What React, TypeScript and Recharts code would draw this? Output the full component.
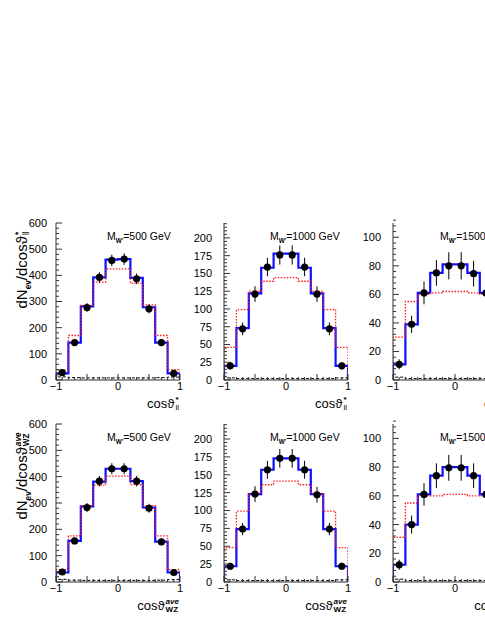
import React from 'react';
import { ComposedChart, Line, Scatter, ErrorBar, XAxis, YAxis } from 'recharts';

// binning shared by every panel
const binEdges = [-1, -0.8, -0.6, -0.4, -0.2, 0, 0.2, 0.4, 0.6, 0.8, 1];
const binCenters = [-0.9, -0.7, -0.5, -0.3, -0.1, 0.1, 0.3, 0.5, 0.7, 0.9];
const xTickLabels = [-1, 0, 1];
const massLabels = ['500', '1000', '1500'];

// top row: cos(theta*_ll)
const ll500Fit = [25, 143, 281, 392, 460, 462, 390, 278, 143, 25];
const ll500Sm = [38, 170, 285, 374, 425, 425, 370, 287, 170, 40];
const ll500Bkg = [12, 9, 8, 8, 8, 8, 8, 8, 9, 11];
const ll500Data = [28, 143, 277, 392, 457, 462, 387, 272, 143, 25];
const ll500Err = [6, 12, 17, 20, 22, 22, 20, 17, 12, 6];

const ll1000Fit = [20, 73, 122, 158, 178, 178, 158, 122, 73, 20];
const ll1000Sm = [46, 99, 125, 139, 144, 144, 139, 125, 99, 46];
const ll1000Bkg = [3, 2, 2, 2, 2, 2, 2, 2, 2, 3];
const ll1000Data = [20, 72, 121, 159, 176, 176, 159, 121, 72, 20];
const ll1000Err = [5, 9, 11, 13, 13.5, 13.5, 13, 11, 9, 5];

const ll1500Fit = [11, 39, 61, 75, 81, 81, 75, 61, 39, 11];
const ll1500Sm = [30, 55, 60, 61, 62, 62, 61, 60, 55, 30];
const ll1500Bkg = [2, 1, 1, 1, 1, 1, 1, 1, 1, 2];
const ll1500Data = [11, 39, 61, 75, 80, 80, 74.5, 61, 39, 11];
const ll1500Err = [3.5, 6, 8, 9, 9.5, 9.5, 9, 8, 6, 3.5];

// bottom row: cos(theta^ave_WZ)
const wz500Fit = [36, 156, 287, 381, 430, 430, 383, 283, 153, 36];
const wz500Sm = [47, 175, 290, 368, 402, 402, 370, 290, 175, 47];
const wz500Bkg = [10, 7, 6, 6, 6, 6, 6, 6, 7, 9];
const wz500Data = [38, 156, 283, 383, 430, 430, 383, 280, 152, 36];
const wz500Err = [6, 12, 17, 20, 21, 21, 20, 17, 12, 6];

const wz1000Fit = [22, 74, 123, 157, 173, 173, 157, 123, 74, 22];
const wz1000Sm = [48, 99, 124, 136, 141, 141, 136, 124, 99, 48];
const wz1000Bkg = [3, 2, 2, 2, 2, 2, 2, 2, 2, 3];
const wz1000Data = [22, 74, 123, 157, 173, 173, 157, 122, 74, 22];
const wz1000Err = [5, 8.5, 11, 12.5, 13, 13, 12.5, 11, 8.5, 5];

const wz1500Fit = [12, 40, 61, 74, 80, 80, 74, 61, 40, 12];
const wz1500Sm = [31, 55, 60, 60, 61, 61, 60, 60, 55, 31];
const wz1500Bkg = [2, 1, 1, 1, 1, 1, 1, 1, 1, 2];
const wz1500Data = [12, 40, 61, 74, 79.5, 79.5, 74, 61, 40, 12];
const wz1500Err = [3.5, 6.3, 7.8, 8.6, 9, 9, 8.6, 7.8, 6.3, 3.5];

// y axis labels per column
const yLabels500 = [0, 100, 200, 300, 400, 500, 600];
const yLabels1000 = [0, 25, 50, 75, 100, 125, 150, 175, 200];
const yLabels1500 = [0, 20, 40, 60, 80, 100];

const FONT = '"Liberation Sans", Arial, Helvetica, sans-serif';
const BLUE = '#1010ff';
const RED = '#ff1a1a';
const FRAME = '#333';

const range = (lo: number, hi: number, step: number) => {
  const out: number[] = [];
  for (let v = lo; v <= hi + step / 2; v += step) out.push(Math.round(v * 1000) / 1000);
  return out;
};

const stepRows = (vals: number[]) => {
  const rows = [{ x: binEdges[0], y: 0 }];
  binEdges.forEach((e, i) => rows.push({ x: e, y: vals[Math.min(i, vals.length - 1)] }));
  rows.push({ x: binEdges[binEdges.length - 1], y: 0 });
  return rows;
};

const pointRows = (vals: number[], errs: number[]) =>
  binCenters.map((x, i) => ({ x, y: vals[i], err: errs[i] }));

const columns = [
  { left: 56, yMax: 600, yMajor: yLabels500, yMinorStep: 20, labelGap: 9, massDx: 51 },
  { left: 224, yMax: 221, yMajor: yLabels1000, yMinorStep: 5, labelGap: 12, massDx: 46 },
  { left: 393, yMax: 110, yMajor: yLabels1500, yMinorStep: 4, labelGap: 12, massDx: 47 },
];

const rows = [
  {
    top: 223, h: 157, titleY: 270, sup: '*', sub: 'll',
    series: [
      [ll500Fit, ll500Sm, ll500Bkg, ll500Data, ll500Err],
      [ll1000Fit, ll1000Sm, ll1000Bkg, ll1000Data, ll1000Err],
      [ll1500Fit, ll1500Sm, ll1500Bkg, ll1500Data, ll1500Err],
    ],
  },
  {
    top: 424, h: 158, titleY: 476, sup: 'ave', sub: 'WZ',
    series: [
      [wz500Fit, wz500Sm, wz500Bkg, wz500Data, wz500Err],
      [wz1000Fit, wz1000Sm, wz1000Bkg, wz1000Data, wz1000Err],
      [wz1500Fit, wz1500Sm, wz1500Bkg, wz1500Data, wz1500Err],
    ],
  },
];

const PLOT_W = 124;
const PAD_L = 45;
const PAD_T = 10;
const PAD_R = 10;
const PAD_B = 25;

const fmtMinus = (v: number) => (v < 0 ? `\u2212${Math.abs(v)}` : `${v}`);

// inward ROOT-style ticks; the axis passes its edge position as x / y
const makeTick = (side: 'left' | 'right' | 'top' | 'bottom', majors: number[], gap = 0) => (props: any) => {
  const { x, y, payload } = props;
  const v = payload.value;
  const major = majors.some((m) => Math.abs(m - v) < 1e-6);
  const len = major ? 6 : 3;
  let line;
  if (side === 'left') line = <line x1={x} x2={x + len} y1={y} y2={y} />;
  else if (side === 'right') line = <line x1={x} x2={x - len} y1={y} y2={y} />;
  else if (side === 'top') line = <line x1={x} x2={x} y1={y} y2={y + len} />;
  else line = <line x1={x} x2={x} y1={y} y2={y - len} />;
  return (
    <g stroke={FRAME} strokeWidth={1}>
      {line}
      {major && side === 'left' && (
        <text x={x - gap} y={y} dy="0.36em" textAnchor="end" fontSize={11} fontFamily={FONT} fill="#000" stroke="none">
          {v}
        </text>
      )}
      {major && side === 'bottom' && xTickLabels.includes(v) && (
        <text x={x} y={y + 10} textAnchor="middle" fontSize={11} fontFamily={FONT} fill="#000" stroke="none">
          {fmtMinus(v)}
        </text>
      )}
    </g>
  );
};

const Scripts = ({ sup, sub, size = '0.55em' }: { sup: string; sub: string; size?: string }) => (
  <span style={{ display: 'inline-flex', flexDirection: 'column', verticalAlign: 'middle', fontSize: size, lineHeight: 1, marginLeft: 1, color: '#000', fontStyle: sup === 'ave' ? 'italic' : 'normal' }}>
    <span style={{ fontWeight: 'bold' }}>{sup}</span>
    <span style={{ fontStyle: 'normal', fontWeight: sub === 'll' ? 'normal' : 'bold' }}>{sub}</span>
  </span>
);

function Panel({ col, row, ci }: { col: any; row: any; ci: number }) {
  const [fit, sm, bkg, data, err] = row.series[ci];
  const xTicks = range(-1, 1, 0.1);
  const xMajors = [-1, -0.5, 0, 0.5, 1];
  const yTicks = range(0, col.yMax, col.yMinorStep);
  return (
    <div style={{ position: 'absolute', left: col.left - PAD_L, top: row.top - PAD_T }}>
      <ComposedChart
        width={PAD_L + PLOT_W + PAD_R}
        height={PAD_T + row.h + PAD_B}
        margin={{ top: PAD_T, right: PAD_R, bottom: 0, left: 0 }}
      >
        <XAxis
          xAxisId="b"
          dataKey="x"
          type="number"
          domain={[-1, 1]}
          allowDataOverflow
          ticks={xTicks}
          interval={0}
          height={PAD_B}
          tickSize={0}
          tickMargin={0}
          tickLine={false}
          axisLine={{ stroke: FRAME }}
          tick={makeTick('bottom', xMajors)}
        />
        <XAxis
          xAxisId="t"
          orientation="top"
          dataKey="x"
          type="number"
          domain={[-1, 1]}
          allowDataOverflow
          ticks={xTicks}
          interval={0}
          height={0}
          tickSize={0}
          tickMargin={0}
          tickLine={false}
          axisLine={{ stroke: FRAME }}
          tick={makeTick('top', xMajors)}
        />
        <YAxis
          yAxisId="l"
          dataKey="y"
          type="number"
          domain={[0, col.yMax]}
          allowDataOverflow
          ticks={yTicks}
          interval={0}
          width={PAD_L}
          tickSize={0}
          tickMargin={0}
          tickLine={false}
          axisLine={{ stroke: FRAME }}
          tick={makeTick('left', col.yMajor, col.labelGap)}
        />
        <YAxis
          yAxisId="r"
          orientation="right"
          dataKey="y"
          type="number"
          domain={[0, col.yMax]}
          allowDataOverflow
          ticks={yTicks}
          interval={0}
          width={0}
          tickSize={0}
          tickMargin={0}
          tickLine={false}
          axisLine={{ stroke: FRAME }}
          tick={makeTick('right', col.yMajor)}
        />
        <Line
          xAxisId="b"
          yAxisId="l"
          data={stepRows(fit)}
          dataKey="y"
          type="stepAfter"
          stroke={BLUE}
          strokeWidth={2.2}
          dot={false}
          isAnimationActive={false}
        />
        <Line
          xAxisId="b"
          yAxisId="l"
          data={stepRows(sm)}
          dataKey="y"
          type="stepAfter"
          stroke={RED}
          strokeWidth={1.3}
          strokeDasharray="1.5 1.5"
          dot={false}
          isAnimationActive={false}
        />
        <Line
          xAxisId="b"
          yAxisId="l"
          data={stepRows(bkg)}
          dataKey="y"
          type="stepAfter"
          stroke="#000"
          strokeWidth={1}
          strokeDasharray="3 2"
          dot={false}
          isAnimationActive={false}
        />
        <Scatter
          xAxisId="b"
          yAxisId="l"
          data={pointRows(data, err)}
          dataKey="y"
          isAnimationActive={false}
          shape={(p: any) => <circle cx={p.cx} cy={p.cy} r={3.6} fill="#000" />}
        >
          <ErrorBar dataKey="err" direction="y" width={0} stroke="#000" strokeWidth={1} />
        </Scatter>
      </ComposedChart>
      <div
        style={{
          position: 'absolute',
          left: PAD_L + col.massDx,
          top: PAD_T + 8,
          fontFamily: FONT,
          fontSize: 10.5,
          whiteSpace: 'nowrap',
          lineHeight: 1,
        }}
      >
        M<sub style={{ fontSize: '0.6em', fontWeight: 'bold' }}>W'</sub>={massLabels[ci]} GeV
      </div>
      <div
        style={{
          position: 'absolute',
          right: PAD_R + 1,
          top: PAD_T + row.h + 16,
          fontFamily: FONT,
          fontSize: 13,
          whiteSpace: 'nowrap',
          lineHeight: 1,
          color: '#000',
        }}
      >
        cos{'\u03D1'}
        <Scripts sup={row.sup} sub={row.sub} size="0.62em" />
      </div>
    </div>
  );
}

export default function App() {
  return (
    <div
      style={{
        position: 'absolute',
        left: 0,
        top: 0,
        width: 485,
        height: 627,
        overflow: 'hidden',
        background: '#fff',
      }}
    >
      {rows.map((row, ri) => (
        <React.Fragment key={ri}>
          {columns.map((col, ci) => (
            <Panel key={ci} col={col} row={row} ci={ci} />
          ))}
          <div
            style={{
              position: 'absolute',
              left: 24,
              top: row.titleY,
              transform: 'translate(-50%, -50%) rotate(-90deg)',
              fontFamily: FONT,
              fontSize: 15,
              whiteSpace: 'nowrap',
              lineHeight: 1,
            }}
          >
            dN<sub style={{ fontSize: '0.55em', fontWeight: 'bold' }}>ev</sub>/dcos{'\u03D1'}
            <Scripts sup={row.sup} sub={row.sub} />
          </div>
        </React.Fragment>
      ))}
    </div>
  );
}
